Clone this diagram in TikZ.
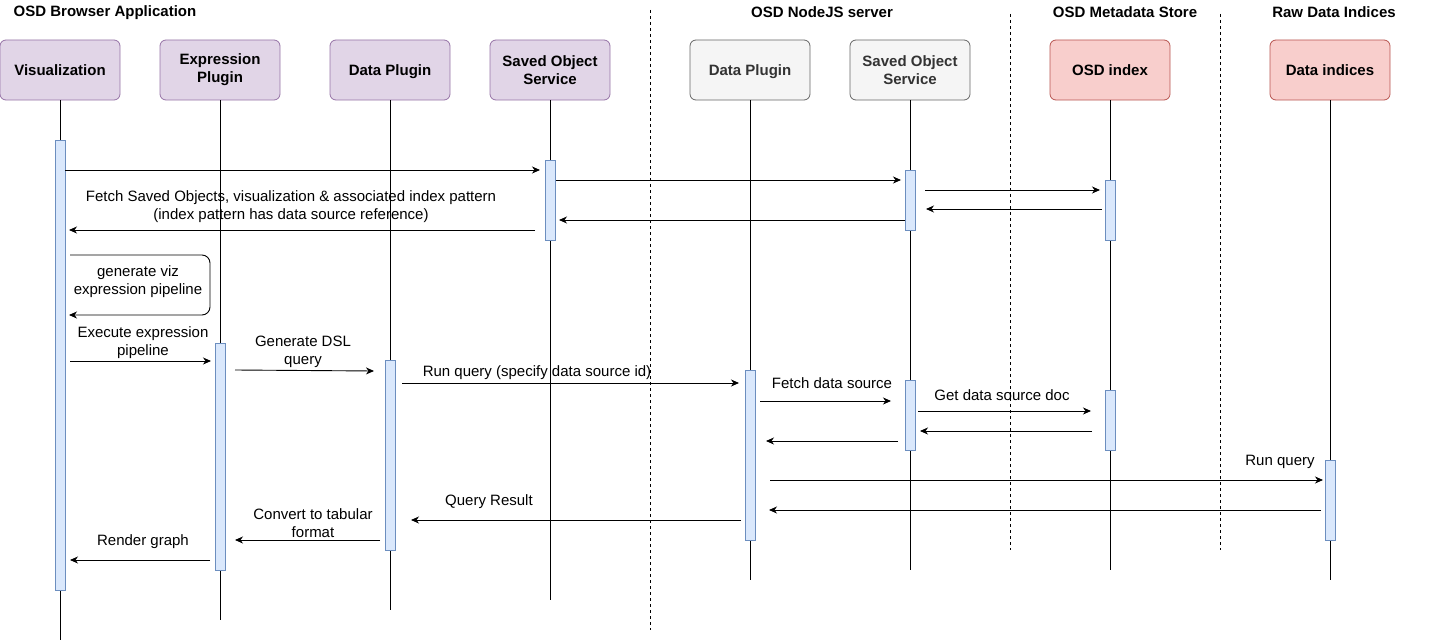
\documentclass[tikz,border=0pt]{standalone}
\usepackage{fontspec}
\setmainfont{Liberation Sans}
\usetikzlibrary{arrows.meta}
\definecolor{pfill}{HTML}{E1D5E7}
\definecolor{pline}{HTML}{9673A6}
\definecolor{gfill}{HTML}{F5F5F5}
\definecolor{gline}{HTML}{666666}
\definecolor{gtext}{HTML}{333333}
\definecolor{rfill}{HTML}{F8CECC}
\definecolor{rline}{HTML}{B85450}
\definecolor{afill}{HTML}{DAE8FC}
\definecolor{aline}{HTML}{6C8EBF}
\tikzset{
  head/.style={draw, rounded corners=6pt, minimum width=120pt, minimum height=60pt, inner sep=0pt, align=center, font=\fontsize{15}{18}\selectfont\bfseries, line width=0.8pt},
  oneline/.style={text height=13pt, text depth=3pt},
  phead/.style={head, fill=pfill, draw=pline},
  ghead/.style={head, fill=gfill, draw=gline, text=gtext},
  rhead/.style={head, fill=rfill, draw=rline},
  title/.style={font=\fontsize{15}{18}\selectfont\bfseries, inner sep=0pt},
  life/.style={draw, line width=0.8pt},
  sep/.style={draw, line width=0.7pt, dash pattern=on 3pt off 3pt},
  act/.style={draw=aline, fill=afill, minimum width=10pt, inner sep=0pt, line width=0.8pt},
  msg/.style={draw, line width=0.9pt, -{Stealth[length=8pt,width=7pt,inset=2.5pt]}},
  lbl/.style={font=\fontsize{15}{18}\selectfont, align=center, inner sep=0pt}
}
\begin{document}
\begin{tikzpicture}[x=1pt,y=-1pt]
\useasboundingbox (0,0) rectangle (1441,642);
% titles
\node[title] (t1) at (105,12.5) {OSD Browser Application};
\node[title] (t2) at (822,12.5) {OSD NodeJS server};
\node[title] (t3) at (1125,12.5) {OSD Metadata Store};
\node[title] (t4) at (1334,12.5) {Raw Data Indices};
% separators
\coordinate (s1a) at (650,10); \coordinate (s1b) at (650,630);
\coordinate (s2a) at (1010,14); \coordinate (s2b) at (1010,550);
\coordinate (s3a) at (1220,14); \coordinate (s3b) at (1220,550);
\draw[sep] (s1a) -- (s1b);
\draw[sep] (s2a) -- (s2b);
\draw[sep] (s3a) -- (s3b);
% heads
\node[phead, oneline] (vis) at (60,70) {Visualization};
\node[phead] (exp) at (220,70) {Expression\\Plugin};
\node[phead, oneline] (dp) at (390,70) {Data Plugin};
\node[phead] (sos) at (550,70) {Saved Object\\Service};
\node[ghead, oneline] (sdp) at (750,70) {Data Plugin};
\node[ghead] (ssos) at (910,70) {Saved Object\\Service};
\node[rhead, oneline] (osd) at (1110,70) {OSD index};
\node[rhead, oneline] (di) at (1330,70) {Data indices};
% lifeline ends
\coordinate (visE) at (60,640);
\coordinate (expE) at (220,620);
\coordinate (dpE) at (390,610);
\coordinate (sosE) at (550,600);
\coordinate (sdpE) at (750,580);
\coordinate (ssosE) at (910,570);
\coordinate (osdE) at (1110,570);
\coordinate (diE) at (1330,580);
\draw[life] (vis.south) -- (visE);
\draw[life] (exp.south) -- (expE);
\draw[life] (dp.south) -- (dpE);
\draw[life] (sos.south) -- (sosE);
\draw[life] (sdp.south) -- (sdpE);
\draw[life] (ssos.south) -- (ssosE);
\draw[life] (osd.south) -- (osdE);
\draw[life] (di.south) -- (diE);
% activations
\node[act, minimum height=450pt] (a1) at (60,365) {};
\node[act, minimum height=80pt] (a2) at (550,200) {};
\node[act, minimum height=60pt] (a3) at (910,200) {};
\node[act, minimum height=60pt] (a4) at (1110,210) {};
\node[act, minimum height=227pt] (a5) at (220,456.5) {};
\node[act, minimum height=190pt] (a6) at (390,455) {};
\node[act, minimum height=170pt] (a7) at (750,455) {};
\node[act, minimum height=70pt] (a8) at (910,415) {};
\node[act, minimum height=60pt] (a9) at (1110,420) {};
\node[act, minimum height=80pt] (a10) at (1330,500) {};
% message end points
\coordinate (m1s) at (65,170);   \coordinate (m1e) at (540,170);
\coordinate (m2s) at (556,180);  \coordinate (m2e) at (901,180);
\coordinate (m3s) at (925,190);  \coordinate (m3e) at (1100,190);
\coordinate (m4s) at (1102,209); \coordinate (m4e) at (926,209);
\coordinate (m5s) at (905,220);  \coordinate (m5e) at (559,220);
\coordinate (m6s) at (535,230);  \coordinate (m6e) at (69,230);
\coordinate (m7s) at (70,255);   \coordinate (m7a) at (210,255); \coordinate (m7b) at (210,315); \coordinate (m7e) at (69,315);
\coordinate (m8s) at (70,361);   \coordinate (m8e) at (211,361);
\coordinate (m9s) at (235,370);  \coordinate (m9e) at (374,371);
\coordinate (m10s) at (402,383); \coordinate (m10e) at (739,383);
\coordinate (m11s) at (760,401); \coordinate (m11e) at (891,401);
\coordinate (m12s) at (918,411); \coordinate (m12e) at (1091,411);
\coordinate (m13s) at (1092,431);\coordinate (m13e) at (920,431);
\coordinate (m14s) at (898,441); \coordinate (m14e) at (766,441);
\coordinate (m15s) at (770,480); \coordinate (m15e) at (1323,480);
\coordinate (m16s) at (1321,510);\coordinate (m16e) at (769,510);
\coordinate (m17s) at (741,520); \coordinate (m17e) at (411,520);
\coordinate (m18s) at (380,540); \coordinate (m18e) at (235,540);
\coordinate (m19s) at (210,560); \coordinate (m19e) at (70,560);
\draw[msg] (m1s) -- (m1e);
\draw[msg] (m2s) -- (m2e);
\draw[msg] (m3s) -- (m3e);
\draw[msg] (m4s) -- (m4e);
\draw[msg] (m5s) -- (m5e);
\draw[msg] (m6s) -- (m6e);
\draw[msg, rounded corners=8pt] (m7s) -- (m7a) -- (m7b) -- (m7e);
\draw[msg] (m8s) -- (m8e);
\draw[msg] (m9s) -- (m9e);
\draw[msg] (m10s) -- (m10e);
\draw[msg] (m11s) -- (m11e);
\draw[msg] (m12s) -- (m12e);
\draw[msg] (m13s) -- (m13e);
\draw[msg] (m14s) -- (m14e);
\draw[msg] (m15s) -- (m15e);
\draw[msg] (m16s) -- (m16e);
\draw[msg] (m17s) -- (m17e);
\draw[msg] (m18s) -- (m18e);
\draw[msg] (m19s) -- (m19e);
% labels
\node[lbl] (l6) at (291,207) {Fetch Saved Objects, visualization \& associated index pattern\\(index pattern has data source reference)};
\node[lbl] (l7) at (138,282) {generate viz\\expression pipeline};
\node[lbl] (l8) at (143,343) {Execute expression\\pipeline};
\node[lbl] (l9) at (303,352) {Generate DSL\\query};
\node[lbl] (l10) at (537,373) {Run query (specify data source id)};
\node[lbl] (l11) at (832,383) {Fetch data source};
\node[lbl] (l12) at (1002,395) {Get data source doc};
\node[lbl] (l15) at (1280,462) {Run query};
\node[lbl] (l17) at (489,502) {Query Result};
\node[lbl] (l18) at (313,523) {Convert to tabular\\format};
\node[lbl] (l19) at (143,542) {Render graph};
\end{tikzpicture}
\end{document}
